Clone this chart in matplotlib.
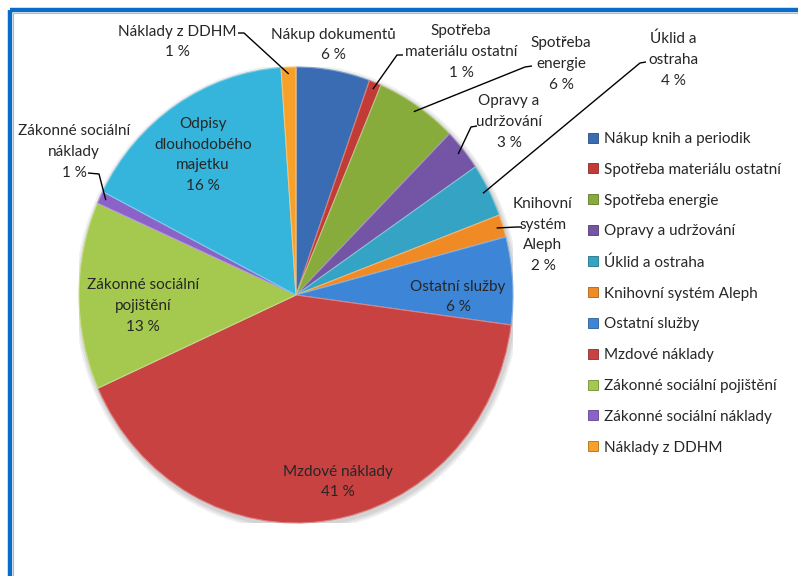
import matplotlib
matplotlib.use("Agg")
import matplotlib.pyplot as plt
from matplotlib.lines import Line2D
from matplotlib.patches import Ellipse
import matplotlib.colors as mcolors
import numpy as np

plt.rcParams['font.family'] = ['Lato', 'DejaVu Sans']

# ---------------- data ----------------
legend_labels = [
    "Nákup knih a periodik",
    "Spotřeba materiálu ostatní",
    "Spotřeba energie",
    "Opravy a udržování",
    "Úklid a ostraha",
    "Knihovní systém Aleph",
    "Ostatní služby",
    "Mzdové náklady",
    "Zákonné sociální pojištění",
    "Zákonné sociální náklady",
    "Náklady z DDHM",
]
slice_labels = [
    "Nákup dokumentů",
    "Spotřeba\nmateriálu ostatní",
    "Spotřeba\nenergie",
    "Opravy a\nudržování",
    "Úklid a\nostraha",
    "Knihovní\nsystém\nAleph",
    "Ostatní služby",
    "Mzdové náklady",
    "Zákonné sociální\npojištění",
    "Zákonné sociální\nnáklady",
    "Odpisy\ndlouhodobého\nmajetku",
    "Náklady z DDHM",
]
values = [5.5, 0.9, 6.1, 3.0, 3.8, 1.6, 6.2, 41.2, 13.3, 0.9, 16.4, 1.1]
colors = ["#3A6CB4", "#C23B36", "#88AC3C", "#7454A4", "#35A3C3", "#F08A24",
          "#3D85D6", "#C84242", "#A5C94E", "#8A62C8", "#35B4DC", "#F7A12A"]
# legend entries map onto the first 10 slices and the last one
legend_slice_idx = [0, 1, 2, 3, 4, 5, 6, 7, 8, 9, 11]

# ---------------- layout ----------------
W, H = 798, 576
CX, CY, RX, RY = 296, 295, 217, 228      # pie centre / radii in pixels
TXT = "#262626"
FS = 11

fig = plt.figure(figsize=(W / 100, H / 100), dpi=100)
fig.patch.set_facecolor("white")

# blue frame (top & left visible, continues beyond the crop)
fig.add_artist(Line2D([9.5 / W, 1.0], [1 - 9.5 / H, 1 - 9.5 / H], transform=fig.transFigure,
                      color="#0A6CC4", lw=3.2, solid_capstyle="butt"))
fig.add_artist(Line2D([9.5 / W, 9.5 / W], [0, 1 - 9.5 / H], transform=fig.transFigure,
                      color="#0A6CC4", lw=3.2, solid_capstyle="butt"))
fig.add_artist(Line2D([12.5 / W, 1.0], [1 - 12.5 / H, 1 - 12.5 / H], transform=fig.transFigure,
                      color="#B8B8B8", lw=0.8))
fig.add_artist(Line2D([12.5 / W, 12.5 / W], [0, 1 - 12.5 / H], transform=fig.transFigure,
                      color="#B8B8B8", lw=0.8))

ax = fig.add_axes([(CX - RX) / W, (H - CY - RY) / H, 2 * RX / W, 2 * RY / H])

# soft shadow
for k in range(3):
    ax.add_patch(Ellipse((0.006, -0.012), 2 * (1.0 + 0.008 * (k + 1)),
                         2 * (1.0 + 0.008 * (k + 1)), color="#000000", alpha=0.06,
                         lw=0, zorder=0))


def lighten(c, f):
    r, g, b = mcolors.to_rgb(c)
    return (r + (1 - r) * f, g + (1 - g) * f, b + (1 - b) * f)


wedges, _ = ax.pie(values, colors=colors, startangle=90, counterclock=False,
                   radius=1.0, wedgeprops=dict(linewidth=0.8))
for w, c in zip(wedges, colors):
    w.set_edgecolor(lighten(c, 0.35))
    w.set_zorder(2)
ax.set_xlim(-1, 1)
ax.set_ylim(-1, 1)
ax.set_aspect("auto")
ax.axis("off")


def px(x, y):
    return (x - CX) / RX, (CY - y) / RY


def pct(v):
    return f"{int(v + 0.5)} %"


# label centre positions in pixels (layout only)
label_pos = {
    0: (333, 45),
    1: (461, 52),
    2: (561, 64),
    3: (509, 122),
    4: (673, 60),
    5: (543, 235),
    6: (458, 297),
    7: (338, 482),
    8: (143, 306),
    9: (74, 152),
    10: (203, 155),
    11: (177, 42),
}
# leader start (text side) points in pixels: (start, elbow)
leaders = {
    1: [(403, 55), (397, 55)],
    2: [(532, 66), (525, 67)],
    3: [(477, 126), (471, 127)],
    4: [(646, 62), (640, 63)],
    5: [(522, 227), (517, 227)],
    9: [(88, 173), (99, 174)],
    11: [(238, 33), (244, 33)],
}

for i, (lab, v) in enumerate(zip(slice_labels, values)):
    x, y = px(*label_pos[i])
    ax.text(x, y, lab + "\n" + pct(v), ha="center", va="center", fontsize=FS,
            color=TXT, linespacing=1.62, clip_on=False, zorder=5)
    if i in leaders:
        w = wedges[i]
        mid = np.deg2rad((w.theta1 + w.theta2) / 2)
        ex, ey = 0.97 * np.cos(mid), 0.97 * np.sin(mid)
        pts = [px(*p) for p in leaders[i]] + [(ex, ey)]
        ax.plot([p[0] for p in pts], [p[1] for p in pts], color="black", lw=1.0,
                clip_on=False, zorder=6, solid_capstyle="butt")

# legend
handles = []
for j in legend_slice_idx:
    c = colors[j]
    handles.append(Line2D([], [], marker="s", linestyle="none", markersize=6.5,
                          markerfacecolor=c, markeredgecolor=mcolors.to_hex(
                              tuple(0.7 * np.array(mcolors.to_rgb(c)))),
                          markeredgewidth=0.6))
leg = fig.legend(handles, legend_labels, loc="upper left",
                 bbox_to_anchor=(588 / W, 1 - 132 / H), frameon=False,
                 fontsize=FS, labelcolor=TXT, handlelength=0.7, handletextpad=0.35,
                 labelspacing=1.1, borderpad=0, borderaxespad=0)

fig.savefig("out.png", dpi=100, facecolor="white")
